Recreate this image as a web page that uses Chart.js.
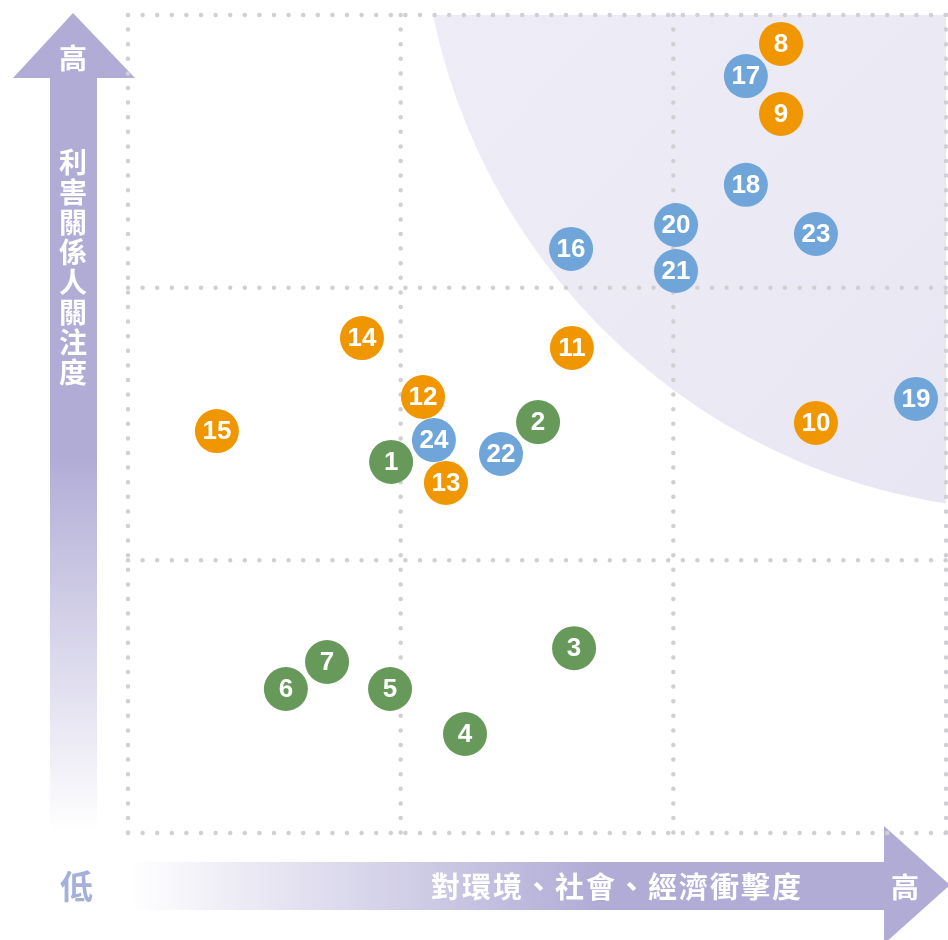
<!DOCTYPE html>
<html>
<head>
<meta charset="utf-8">
<script src="https://cdn.jsdelivr.net/npm/chart.js@4/dist/chart.umd.min.js"></script>
<style>
    body { margin: 0; background: #fff; }
    #wrap { position: relative; width: 948px; height: 940px; overflow: hidden; }
    #matrix { position: absolute; left: 0; top: 0; }
    .lbl { position: absolute; font-family: "Noto Sans CJK TC", "Noto Sans", sans-serif; font-weight: 700; color: #fff; line-height: 1; white-space: nowrap; }
    #yTitle { left: 59px; top: 148px; font-size: 28px; writing-mode: vertical-rl; letter-spacing: 2px; }
    #yHigh { left: 59px; top: 43px; font-size: 28px; }
    #xTitle { left: 431px; top: 871px; font-size: 29px; letter-spacing: 2px; }
    #xHigh { left: 891px; top: 872px; font-size: 28px; }
    #xLow { left: 60px; top: 869px; font-size: 33px; color: #a4b0da; }
</style>
</head>
<body>
<div id="wrap">
    <canvas id="matrix" width="948" height="940"></canvas>
    <div class="lbl" id="yHigh">高</div>
    <div class="lbl" id="yTitle">利害關係人關注度</div>
    <div class="lbl" id="xTitle">對環境、社會、經濟衝擊度</div>
    <div class="lbl" id="xHigh">高</div>
    <div class="lbl" id="xLow">低</div>
</div>
<script>
// topic numbers and positions (x = impact, y = stakeholder concern, 0-3 each)
const greenIds = [1, 2, 3, 4, 5, 6, 7];
const greenImpact = [0.965, 1.504, 1.636, 1.236, 0.961, 0.579, 0.730];
const greenConcern = [1.361, 1.507, 0.678, 0.363, 0.528, 0.528, 0.627];

const orangeIds = [8, 9, 10, 11, 12, 13, 14, 15];
const orangeImpact = [2.395, 2.395, 2.523, 1.628, 1.082, 1.166, 0.858, 0.326];
const orangeConcern = [2.894, 2.637, 1.504, 1.779, 1.599, 1.284, 1.815, 1.474];

const blueIds = [16, 17, 18, 19, 20, 21, 22, 23, 24];
const blueImpact = [1.625, 2.266, 2.266, 2.890, 2.010, 2.010, 1.368, 2.523, 1.122];
const blueConcern = [2.142, 2.776, 2.377, 1.592, 2.230, 2.061, 1.390, 2.197, 1.441];

const gridValues = [0, 1, 2, 3];

// highlighted zone: circle around the top-right corner
const zoneCenter = { x: 3.352, y: 3.462 };
const zoneRadius = 2.281;

const purple = '#b1acd6';

function makeSet(ids, xs, ys, color) {
    return {
        data: xs.map((x, i) => ({ x: x, y: ys[i], id: ids[i] })),
        backgroundColor: color,
        borderColor: color,
        borderWidth: 0,
        pointRadius: 22,
        pointHoverRadius: 22,
        clip: false
    };
}

const arrowsPlugin = {
    id: 'arrows',
    beforeDraw(chart) {
        const c = chart.ctx;
        c.save();
        // vertical arrow
        let g = c.createLinearGradient(0, 78, 0, 832);
        g.addColorStop(0, purple);
        g.addColorStop(0.5, purple);
        g.addColorStop(1, 'rgba(177,172,214,0)');
        c.fillStyle = g;
        c.fillRect(50, 77, 47, 755);
        c.fillStyle = purple;
        c.beginPath();
        c.moveTo(73, 13);
        c.lineTo(135, 78);
        c.lineTo(13, 78);
        c.closePath();
        c.fill();
        // horizontal arrow
        g = c.createLinearGradient(130, 0, 884, 0);
        g.addColorStop(0, 'rgba(177,172,214,0)');
        g.addColorStop(0.62, purple);
        g.addColorStop(1, purple);
        c.fillStyle = g;
        c.fillRect(130, 862, 755, 48);
        c.fillStyle = purple;
        c.beginPath();
        c.moveTo(884, 826);
        c.lineTo(950, 885);
        c.lineTo(884, 944);
        c.closePath();
        c.fill();
        c.restore();
    },
    beforeDatasetsDraw(chart) {
        const c = chart.ctx;
        const xs = chart.scales.x, ys = chart.scales.y;
        const area = chart.chartArea;
        c.save();
        // shaded zone
        c.beginPath();
        c.rect(area.left, area.top, area.right - area.left, area.bottom - area.top);
        c.clip();
        const cx = xs.getPixelForValue(zoneCenter.x);
        const cy = ys.getPixelForValue(zoneCenter.y);
        const r = xs.getPixelForValue(zoneRadius) - xs.getPixelForValue(0);
        const g = c.createLinearGradient(area.left + 300, area.top, area.right, area.top + 500);
        g.addColorStop(0, '#eeedf7');
        g.addColorStop(1, '#e8e6f2');
        c.fillStyle = g;
        c.beginPath();
        c.arc(cx, cy, r, 0, Math.PI * 2);
        c.fill();
        c.restore();

        // dotted grid
        c.save();
        c.strokeStyle = '#d0d0d4';
        c.lineWidth = 4.5;
        c.lineCap = 'round';
        c.setLineDash([0, 14.6]);
        gridValues.forEach(v => {
            const px = xs.getPixelForValue(v);
            const py = ys.getPixelForValue(v);
            c.beginPath();
            c.moveTo(px, ys.getPixelForValue(3));
            c.lineTo(px, ys.getPixelForValue(0));
            c.stroke();
            c.beginPath();
            c.moveTo(xs.getPixelForValue(0), py);
            c.lineTo(xs.getPixelForValue(3), py);
            c.stroke();
        });
        c.restore();
    },
    afterDatasetsDraw(chart) {
        const c = chart.ctx;
        c.save();
        c.fillStyle = '#fff';
        c.font = 'bold 26px "Liberation Sans", Arial, sans-serif';
        c.textAlign = 'center';
        c.textBaseline = 'middle';
        chart.data.datasets.forEach((ds, i) => {
            chart.getDatasetMeta(i).data.forEach((pt, j) => {
                c.fillText(String(ds.data[j].id), pt.x, pt.y + 1);
            });
        });
        c.restore();
    }
};

document.addEventListener('DOMContentLoaded', () => {
    const ctx = document.getElementById('matrix').getContext('2d');
    new Chart(ctx, {
        type: 'scatter',
        data: {
            datasets: [
                makeSet(greenIds, greenImpact, greenConcern, '#679a5a'),
                makeSet(orangeIds, orangeImpact, orangeConcern, '#f09600'),
                makeSet(blueIds, blueImpact, blueConcern, '#6fa5d8')
            ]
        },
        options: {
            responsive: false,
            animation: false,
            events: [],
            layout: { autoPadding: false, padding: { left: 128, top: 15, right: 2, bottom: 107 } },
            plugins: {
                legend: { display: false },
                tooltip: { enabled: false }
            },
            scales: {
                x: { type: 'linear', min: 0, max: 3, display: false },
                y: { type: 'linear', min: 0, max: 3, display: false }
            }
        },
        plugins: [arrowsPlugin]
    });
});
</script>
</body>
</html>
